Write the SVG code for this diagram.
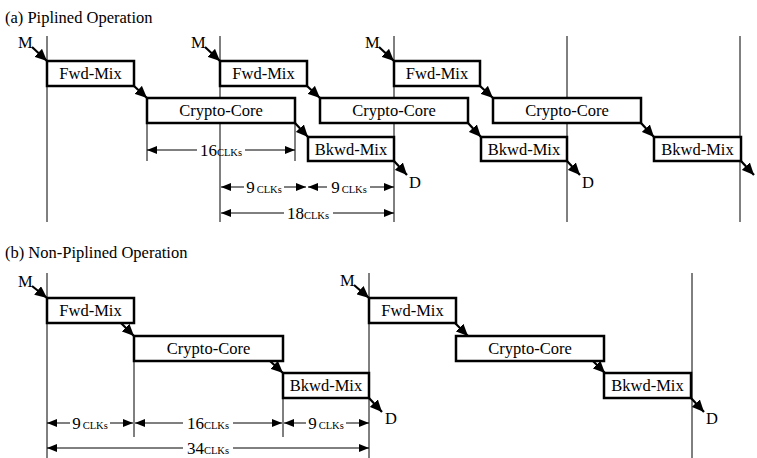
<svg xmlns="http://www.w3.org/2000/svg" width="757" height="458" viewBox="0 0 757 458">
<defs>
<marker id="fa" markerUnits="userSpaceOnUse" markerWidth="13" markerHeight="11" refX="12" refY="5.5" orient="auto"><path d="M0,0 L12,5.5 L0,11 z" fill="#000"/></marker>
<marker id="da" markerUnits="userSpaceOnUse" markerWidth="11" markerHeight="8" refX="10" refY="4" orient="auto-start-reverse"><path d="M0,0 L10,4 L0,8 z" fill="#000"/></marker>
</defs>
<style>
text{font-family:"Liberation Serif","Times New Roman",serif;fill:#000}
.t{font-size:16.5px}
.c{font-size:16.5px;text-anchor:middle}
.n{font-size:17px;text-anchor:middle}
.s{font-size:10.5px}
.box{fill:#fff;stroke:#000;stroke-width:2.5}
.v{stroke:#000;stroke-width:1;fill:none}
.f{stroke:#000;stroke-width:2.2;fill:none;marker-end:url(#fa)}
.dl{stroke:#000;stroke-width:1;fill:none;marker-start:url(#da)}
.dr{stroke:#000;stroke-width:1;fill:none;marker-end:url(#da)}
</style>
<rect width="757" height="458" fill="#fff"/>
<text class="t" x="5" y="23">(a) Piplined Operation</text>
<text class="t" x="5" y="258">(b) Non-Piplined Operation</text>
<g id="guides">
<path class="v" d="M47,36V222 M220,36V222 M394,36V222 M567,36V222 M740,36V222 M147,123V161 M295,123V161"/>
<path class="v" d="M47,273V458 M369,273V458 M692,273V458 M134,361V437 M283,398V437"/>
</g>
<g id="connectors">
<path class="f" d="M32,47L47,61"/><path class="f" d="M134,86L147,98"/><path class="f" d="M295,123L308,137"/><path class="f" d="M394,161L407,175"/>
<path class="f" d="M205,47L220,61"/><path class="f" d="M307,86L320,98"/><path class="f" d="M468,123L481,137"/><path class="f" d="M567,161L580,175"/>
<path class="f" d="M379,47L394,61"/><path class="f" d="M480,86L493,98"/><path class="f" d="M641,123L654,137"/><path class="f" d="M741,161L754,175"/>
<path class="f" d="M32,286L47,298"/><path class="f" d="M121,323L134,336"/><path class="f" d="M270,361L283,373"/><path class="f" d="M369,398L382,412"/>
<path class="f" d="M354,285L369,298"/><path class="f" d="M455,323L468,336"/><path class="f" d="M593,361L605,373"/><path class="f" d="M691,398L704,412"/>
</g>
<g id="a1">
<rect class="box" x="47" y="61" width="87" height="25"/><text class="c" x="90.5" y="79">Fwd-Mix</text>
<rect class="box" x="147" y="98" width="148" height="25"/><text class="c" x="221" y="116">Crypto-Core</text>
<rect class="box" x="308" y="137" width="86" height="24"/><text class="c" x="351" y="155">Bkwd-Mix</text>
<text class="t" x="18" y="48">M</text><text class="t" x="409" y="188">D</text>
</g>
<g id="a2">
<rect class="box" x="220" y="61" width="87" height="25"/><text class="c" x="263.5" y="79">Fwd-Mix</text>
<rect class="box" x="320" y="98" width="148" height="25"/><text class="c" x="394" y="116">Crypto-Core</text>
<rect class="box" x="481" y="137" width="86" height="24"/><text class="c" x="524" y="155">Bkwd-Mix</text>
<text class="t" x="191" y="48">M</text><text class="t" x="582" y="188">D</text>
</g>
<g id="a3">
<rect class="box" x="394" y="61" width="86" height="25"/><text class="c" x="437" y="79">Fwd-Mix</text>
<rect class="box" x="493" y="98" width="148" height="25"/><text class="c" x="567" y="116">Crypto-Core</text>
<rect class="box" x="654" y="137" width="87" height="24"/><text class="c" x="697.5" y="155">Bkwd-Mix</text>
<text class="t" x="365" y="48">M</text>
</g>
<g id="b1">
<rect class="box" x="47" y="298" width="87" height="25"/><text class="c" x="90.5" y="316">Fwd-Mix</text>
<rect class="box" x="134" y="336" width="149" height="25"/><text class="c" x="208.5" y="354">Crypto-Core</text>
<rect class="box" x="283" y="373" width="86" height="25"/><text class="c" x="326" y="391">Bkwd-Mix</text>
<text class="t" x="18" y="287">M</text><text class="t" x="385" y="424">D</text>
</g>
<g id="b2">
<rect class="box" x="369" y="298" width="87" height="25"/><text class="c" x="412.5" y="316">Fwd-Mix</text>
<rect class="box" x="456" y="336" width="148" height="25"/><text class="c" x="530" y="354">Crypto-Core</text>
<rect class="box" x="604" y="373" width="87" height="25"/><text class="c" x="647.5" y="391">Bkwd-Mix</text>
<text class="t" x="340" y="286">M</text><text class="t" x="706" y="424">D</text>
</g>
<g id="dims">
<path class="dl" d="M147,150H197"/><path class="dr" d="M245,150H295"/><text class="n" x="221" y="156">16<tspan class="s">CLKs</tspan></text>
<path class="dl" d="M221,187H244"/><path class="dr" d="M284,187H306"/><text class="n" x="264" y="193">9<tspan class="s" dx="2">CLKs</tspan></text>
<path class="dl" d="M308,187H327"/><path class="dr" d="M370,187H394"/><text class="n" x="349" y="193">9<tspan class="s" dx="2">CLKs</tspan></text>
<path class="dl" d="M221,213H284"/><path class="dr" d="M333,213H394"/><text class="n" x="308" y="219">18<tspan class="s">CLKs</tspan></text>
<path class="dl" d="M47,423H70"/><path class="dr" d="M110,423H133"/><text class="n" x="90" y="429">9<tspan class="s" dx="2">CLKs</tspan></text>
<path class="dl" d="M135,423H183"/><path class="dr" d="M233,423H282"/><text class="n" x="208" y="429">16<tspan class="s">CLKs</tspan></text>
<path class="dl" d="M284,423H306"/><path class="dr" d="M346,423H369"/><text class="n" x="326" y="429">9<tspan class="s" dx="2">CLKs</tspan></text>
<path class="dl" d="M47,448H183"/><path class="dr" d="M233,448H369"/><text class="n" x="208" y="454">34<tspan class="s">CLKs</tspan></text>
</g>
</svg>
